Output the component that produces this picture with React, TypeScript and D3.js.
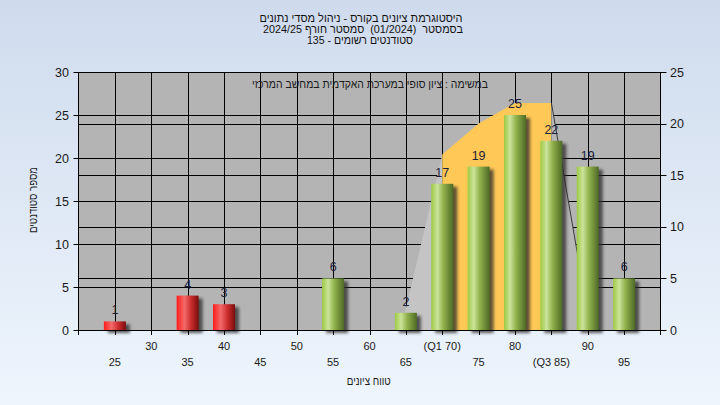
import React from "react";
import * as d3 from "d3";

// ---- data ----
const grades = [25, 30, 35, 40, 45, 50, 55, 60, 65, 70, 75, 80, 85, 90, 95];
const counts = [1, 0, 4, 3, 0, 0, 6, 0, 2, 17, 19, 25, 22, 19, 6];
const tickLabels = ["25", "30", "35", "40", "45", "50", "55", "60", "65", "(Q1 70)", "75", "80", "(Q3 85)", "90", "95"];
const leftTicks = [0, 5, 10, 15, 20, 25, 30];
const rightTicks = [0, 5, 10, 15, 20, 25];
const curveGrades = [64.3, 70, 75, 80, 85, 90.4];
const curveValues = [0, 17, 20, 22, 22, 0];
const q1 = 70;
const q3 = 85;
const passGrade = 55;
const titleLines = [
  "היסטוגרמת ציונים בקורס - ניהול מסדי נתונים",
  "בסמסטר  (01/2024)  סמסטר חורף 2024/25",
  "סטודנטים רשומים - 135",
];
const noteText = "במשימה : ציון סופי במערכת האקדמית במחשב המרכזי";
const xTitle = "טווח ציונים";
const yTitle = "מספר סטודנטים";

// ---- layout ----
const W = 720, H = 405;
const L = 78.5, R = 660.5, T = 72, B = 330;
const FONT = "'Liberation Sans', 'DejaVu Sans', Arial, sans-serif";

export default function App() {
  const x = d3.scaleLinear().domain([20, 100]).range([L, R]);
  const yL = d3.scaleLinear().domain([0, 30]).range([B, T]);
  const yR = d3.scaleLinear().domain([0, 25]).range([B, T]);
  const barW = 22;

  const pts = curveGrades.map((g, i) => ({ g, v: curveValues[i] }));
  const line = d3.line<{ g: number; v: number }>().x(d => x(d.g)).y(d => yR(d.v));
  const seg = (a: number, b: number) => {
    const inner = pts.filter(p => p.g >= a && p.g <= b);
    return line([{ g: inner[0].g, v: 0 }, ...inner, { g: inner[inner.length - 1].g, v: 0 }]) + "Z";
  };
  const leftPath = seg(curveGrades[0], q1);
  const midPath = seg(q1, q3);
  const rightPath = seg(q3, curveGrades[curveGrades.length - 1]);
  const rightEdge = line(pts.filter(p => p.g >= q3)) || "";

  const crisp = (v: number) => Math.round(v) + 0.5;

  return (
    <svg width={W} height={H} style={{ position: "absolute", left: 0, top: 0 }} fontFamily={FONT}>
      <defs>
        <linearGradient id="bg" x1="0" y1="0" x2="0" y2="1">
          <stop offset="0%" stopColor="#cfdbed" />
          <stop offset="100%" stopColor="#eef5fd" />
        </linearGradient>
        <linearGradient id="green" x1="0" y1="0" x2="1" y2="0">
          <stop offset="0%" stopColor="#9dca42" />
          <stop offset="28%" stopColor="#cbe39a" />
          <stop offset="55%" stopColor="#92b24c" />
          <stop offset="100%" stopColor="#4d6a26" />
        </linearGradient>
        <linearGradient id="red" x1="0" y1="0" x2="1" y2="0">
          <stop offset="0%" stopColor="#ff1c1c" />
          <stop offset="35%" stopColor="#f26a6a" />
          <stop offset="65%" stopColor="#cc2e2e" />
          <stop offset="100%" stopColor="#7c0c0c" />
        </linearGradient>
        <filter id="blur" x="-50%" y="-50%" width="200%" height="200%">
          <feGaussianBlur stdDeviation="1.6" />
        </filter>
      </defs>
      <rect x={0} y={0} width={W} height={H} fill="url(#bg)" />
      <rect x={L} y={T} width={R - L} height={B - T} fill="#b4b4b4" />

      {/* gridlines */}
      {leftTicks.filter(t => t > 0).map(t => (
        <line key={"gl" + t} x1={L} x2={R} y1={crisp(yL(t))} y2={crisp(yL(t))} stroke="#000" />
      ))}
      {rightTicks.filter(t => t > 0).map(t => (
        <line key={"gr" + t} x1={L} x2={R} y1={crisp(yR(t))} y2={crisp(yR(t))} stroke="#000" />
      ))}
      {grades.map(g => (
        <line key={"gv" + g} x1={crisp(x(g))} x2={crisp(x(g))} y1={T} y2={B} stroke="#000" />
      ))}

      {/* distribution areas */}
      <path d={leftPath} fill="#c4c4c4" />
      <path d={midPath} fill="#ffc857" />
      <path d={rightPath} fill="#b7b7b7" />
      <path d={rightEdge} fill="none" stroke="#3a3a3a" strokeWidth={1} />

      {/* note */}
      <text x={370} y={88} textAnchor="middle" direction="rtl" fontSize={11.5} fill="#1a1a1a"
        textLength={236} lengthAdjust="spacingAndGlyphs">{noteText}</text>

      {/* bar shadows */}
      {grades.map((g, i) => counts[i] > 0 ? (
        <rect key={"s" + g} x={x(g) - barW / 2 + 4} y={yL(counts[i]) + 3} width={barW} height={B - yL(counts[i])}
          fill="#2a2a2a" opacity={0.75} filter="url(#blur)" />
      ) : null)}
      {/* bars */}
      {grades.map((g, i) => counts[i] > 0 ? (
        <rect key={"b" + g} x={x(g) - barW / 2} y={yL(counts[i])} width={barW} height={B - yL(counts[i])}
          fill={g < passGrade ? "url(#red)" : "url(#green)"} />
      ) : null)}
      {/* bar labels */}
      {grades.map((g, i) => counts[i] > 0 ? (
        <text key={"l" + g} x={x(g)} y={yL(counts[i]) - 7} textAnchor="middle" fontSize={12.5} fill="#1c1c38">
          {counts[i]}
        </text>
      ) : null)}

      {/* axes */}
      <line x1={L} x2={L} y1={T} y2={B + 5} stroke="#000" />
      <line x1={R} x2={R} y1={T} y2={B + 5} stroke="#000" />
      <line x1={L} x2={R} y1={B + 0.5} y2={B + 0.5} stroke="#000" />
      {leftTicks.map(t => (
        <g key={"lt" + t}>
          <line x1={L - 5} x2={L} y1={crisp(yL(t))} y2={crisp(yL(t))} stroke="#000" />
          <text x={69} y={yL(t)} dy="0.36em" textAnchor="end" fontSize={12.5} fill="#1a1a1a">{t}</text>
        </g>
      ))}
      {rightTicks.map(t => (
        <g key={"rt" + t}>
          <line x1={R} x2={R + 6} y1={crisp(yR(t))} y2={crisp(yR(t))} stroke="#000" />
          <text x={670} y={yR(t)} dy="0.36em" textAnchor="start" fontSize={12.5} fill="#1a1a1a">{t}</text>
        </g>
      ))}
      {grades.map((g, i) => (
        <g key={"xt" + g}>
          <line x1={crisp(x(g))} x2={crisp(x(g))} y1={B} y2={B + 5} stroke="#000" />
          <text x={x(g)} y={i % 2 === 0 ? 366 : 350} textAnchor="middle" fontSize={11} fill="#1a1a1a">
            {tickLabels[i]}
          </text>
        </g>
      ))}

      {/* titles */}
      <text x={368.7} y={385} textAnchor="middle" direction="rtl" fontSize={11.5} fill="#1a1a1a"
        textLength={44} lengthAdjust="spacingAndGlyphs">{xTitle}</text>
      <text transform="translate(37,200) rotate(-90)" textAnchor="middle" direction="rtl" fontSize={11.5} fill="#1a1a1a"
        textLength={66} lengthAdjust="spacingAndGlyphs">{yTitle}</text>
      {titleLines.map((s, i) => (
        <text key={"t" + i} x={[361, 363, 360][i]} y={22 + i * 11} textAnchor="middle" direction="rtl" fontSize={11.5}
          fill="#111" style={{ whiteSpace: "pre" }}
          textLength={[203, 200, 106][i]} lengthAdjust="spacingAndGlyphs">{s}</text>
      ))}
    </svg>
  );
}
